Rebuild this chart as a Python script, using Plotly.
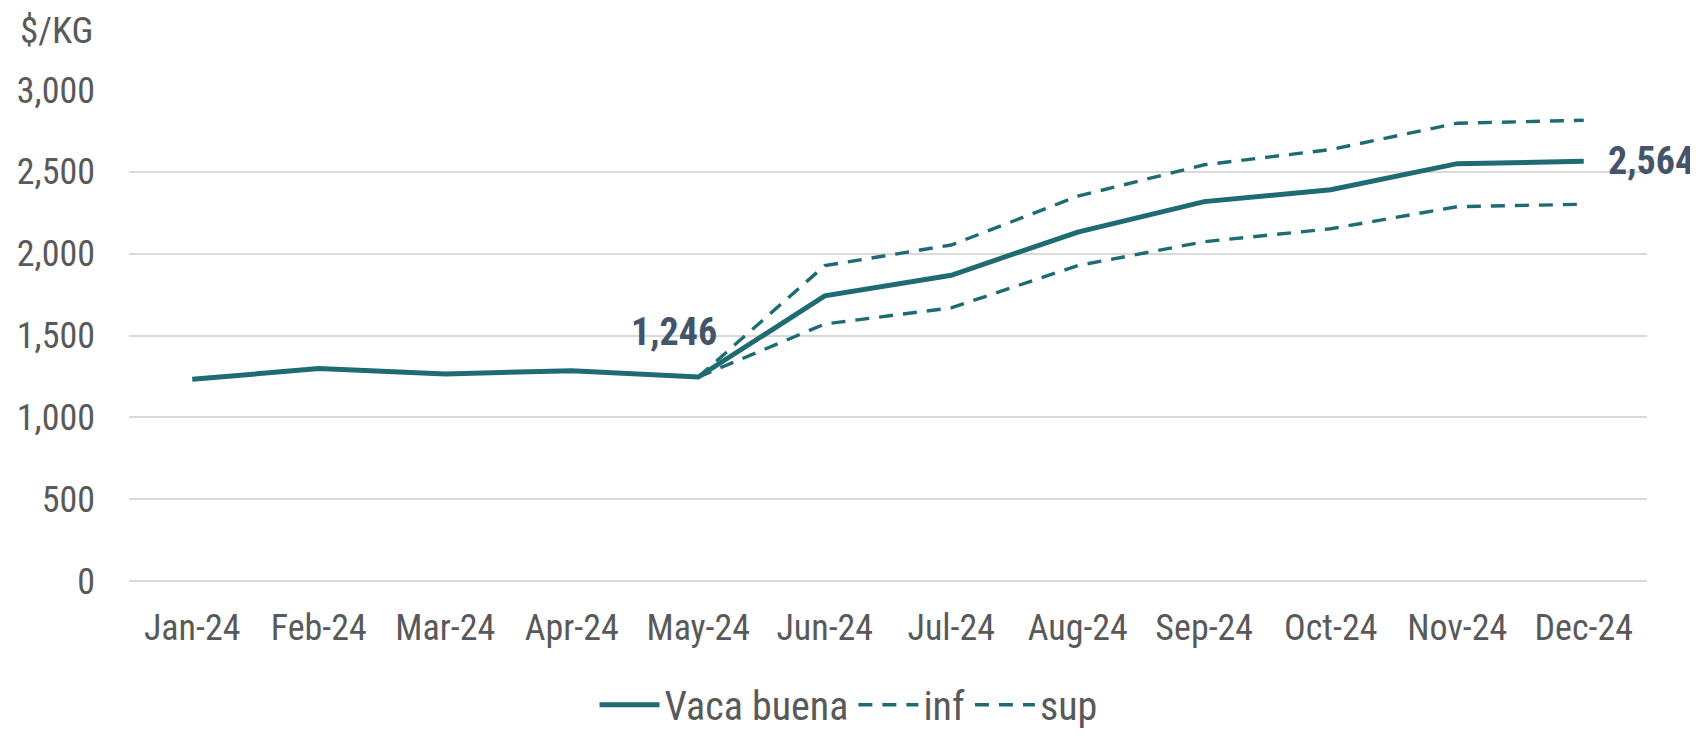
import plotly.graph_objects as go

months = ["Jan-24", "Feb-24", "Mar-24", "Apr-24", "May-24", "Jun-24",
          "Jul-24", "Aug-24", "Sep-24", "Oct-24", "Nov-24", "Dec-24"]
vaca_buena = [1232, 1298, 1265, 1285, 1246, 1742, 1868, 2132, 2318, 2391, 2550, 2564]
inf = [None, None, None, None, 1246, 1570, 1669, 1927, 2073, 2152, 2287, 2302]
sup = [None, None, None, None, 1246, 1927, 2053, 2351, 2543, 2636, 2797, 2815]
y_ticks = [0, 500, 1000, 1500, 2000, 2500, 3000]

TEAL = "#1F6B73"
LABEL = "#44546A"
TICK = "#595959"
FONT = "Roboto Condensed, Roboto, Arial"

fig = go.Figure()
fig.add_trace(go.Scatter(x=months, y=vaca_buena, name="Vaca buena", mode="lines",
                         line=dict(color=TEAL, width=5)))
fig.add_trace(go.Scatter(x=months, y=inf, name="inf", mode="lines",
                         line=dict(color=TEAL, width=3.4, dash="14px,10px")))
fig.add_trace(go.Scatter(x=months, y=sup, name="sup", mode="lines",
                         line=dict(color=TEAL, width=3.4, dash="14px,10px")))

fig.add_annotation(x=months[4], y=vaca_buena[4], text="<b>1,246</b>", showarrow=False,
                   xanchor="center", yanchor="middle", xshift=-24, yshift=45,
                   font=dict(family=FONT, size=38, color=LABEL))
fig.add_annotation(x=months[-1], y=vaca_buena[-1], text="<b>2,564</b>", showarrow=False,
                   xanchor="left", yanchor="middle", xshift=22, yshift=0,
                   font=dict(family=FONT, size=38, color=LABEL))
fig.add_annotation(xref="paper", yref="paper", x=-0.073, y=1.122, text="$/KG",
                   showarrow=False, xanchor="left", yanchor="middle",
                   font=dict(family=FONT, size=37, color=TICK))

fig.update_layout(
    width=1690, height=728,
    margin=dict(l=121, r=51, t=82, b=155, autoexpand=False),
    plot_bgcolor="white", paper_bgcolor="white",
    font=dict(family=FONT, size=36, color=TICK),
    showlegend=True,
    legend=dict(orientation="h", x=0.474, xanchor="center", y=-0.252, yanchor="middle",
                font=dict(family=FONT, size=40, color=TICK), itemwidth=60,
                traceorder="normal", tracegroupgap=0),
    xaxis=dict(type="category", range=[-0.5, 11.5], showgrid=False, showline=False,
               ticks="", ticklabelstandoff=22, automargin=False,
               tickfont=dict(family=FONT, size=36, color=TICK)),
    yaxis=dict(range=[0, 3000], tickvals=y_ticks, tickformat=",d", showgrid=True,
               gridcolor="#D9D9D9", gridwidth=1.5, zeroline=True, zerolinecolor="#D9D9D9",
               zerolinewidth=1.5, showline=False, ticks="", ticklabelstandoff=33,
               automargin=False,
               tickfont=dict(family=FONT, size=36, color=TICK)),
)

fig.write_html("out.html")
